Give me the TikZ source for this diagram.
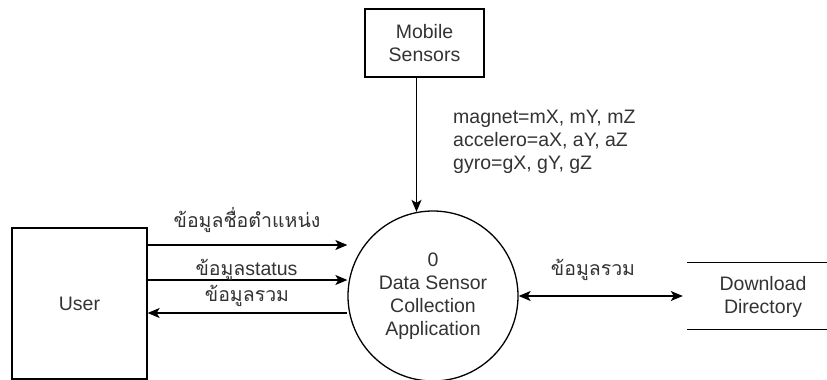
\documentclass[tikz,border=0pt]{standalone}
\usepackage{fontspec}
\setmainfont{Liberation Sans}
\newfontfamily\thai[Script=Thai]{Loma}
\usetikzlibrary{arrows.meta}
\definecolor{txt}{RGB}{51,51,51}
\tikzset{
  base/.style={font=\fontsize{19.5}{23}\selectfont, text=txt, align=center, inner sep=0pt},
  ent/.style={base, draw=black, line width=1.3pt},
  flow/.style={draw=black, line width=1.3pt, -{Stealth[length=12pt,width=10pt,inset=3pt]}},
  bflow/.style={draw=black, line width=1.3pt, {Stealth[length=12pt,width=10pt,inset=3pt]}-{Stealth[length=12pt,width=10pt,inset=3pt]}},
  lbl/.style={base}
}
\begin{document}
\begin{tikzpicture}[x=1pt,y=-1pt]
\useasboundingbox (0,0) rectangle (827,380);
% entities
\node[ent, minimum width=119pt, minimum height=68pt] (ms) at (424.5,43) {Mobile\\Sensors};
\node[ent, minimum width=135pt, minimum height=151pt] (user) at (79.5,303.5) {User};
\node[ent, circle, minimum size=170pt] (proc) at (433,296) {0\\Data Sensor\\Collection\\Application};
\node[base, minimum width=140pt, minimum height=66pt] (dd) at (757,296) {};
\node[base] (ddt) at (763,297) {Download\\Directory};
\draw[line width=1.3pt] (dd.north west) -- (dd.north east);
\draw[line width=1.3pt] (dd.south west) -- (dd.south east);
% flows
\draw[flow] ([xshift=-8pt]ms.south) -- ([xshift=-8pt,yshift=-1.5pt]ms.south |- proc.north);
\draw[flow] (user.east |- 0,245) -- (proc.west |- 0,245);
\draw[flow] (user.east |- 0,280) -- (proc.west |- 0,280);
\draw[flow] (proc.west |- 0,313) -- (user.east |- 0,313);
\draw[bflow] (proc.east) -- ([xshift=-4pt]dd.west);
% labels
\node[lbl, anchor=west, align=left] (sl) at (453,142) {magnet=mX, mY, mZ\\accelero=aX, aY, aZ\\gyro=gX, gY, gZ};
\node[lbl] (l1) at (247,220) {\thai ข้อมูลชื่อตำแหน่ง};
\node[lbl] (l2) at (246.5,270) {{\thai ข้อมูล}status};
\node[lbl] (l3) at (247,296) {\thai ข้อมูลรวม};
\node[lbl] (l4) at (593,270) {\thai ข้อมูลรวม};
\end{tikzpicture}
\end{document}
